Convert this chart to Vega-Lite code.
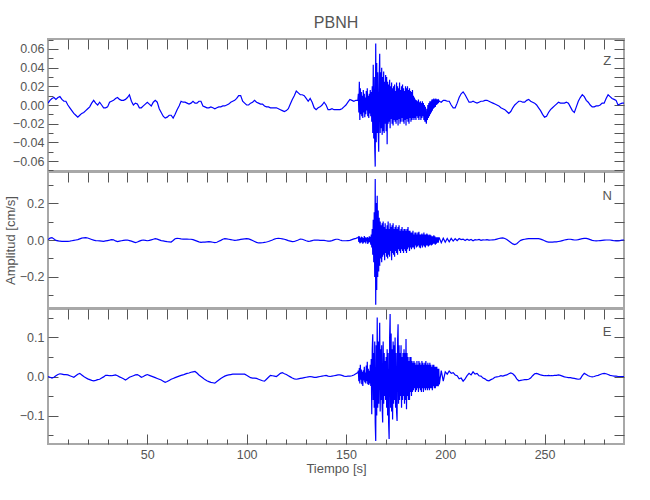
{
"$schema": "https://vega.github.io/schema/vega-lite/v6.json",
"autosize": {"type": "pad"},
"padding": {"left": 3, "top": 14, "right": 5, "bottom": 5},
"title": {"text": "PBNH", "fontSize": 16, "font": "Liberation Sans", "color": "#555555", "fontWeight": "normal", "anchor": "middle", "frame": "group", "offset": 7},
"spacing": -2,
"data": {"values": [
{"t":0,"z":0.002,"n":0.002,"e":0},
{"t":1,"z":0.005,"n":0.010,"e":-0.002},
{"t":2,"z":0.007,"n":0.013,"e":-0.004},
{"t":3,"z":0.008,"n":0.006,"e":-0.002},
{"t":4,"z":0.006,"n":-0.002,"e":0.002},
{"t":5,"z":0.008,"n":-0.005,"e":0.005},
{"t":6,"z":0.009,"n":-0.006,"e":0.007},
{"t":7,"z":0.006,"n":-0.007,"e":0.006},
{"t":8,"z":0.004,"n":-0.007,"e":0.005},
{"t":9,"z":0.004,"n":-0.007,"e":0.005},
{"t":10,"z":0,"n":-0.007,"e":0.004},
{"t":11,"z":-0.003,"n":-0.006,"e":0.002},
{"t":12,"z":-0.006,"n":-0.004,"e":0},
{"t":13,"z":-0.009,"n":-0.002,"e":-0.002},
{"t":14,"z":-0.011,"n":0,"e":0.002},
{"t":15,"z":-0.013,"n":0.002,"e":0.006},
{"t":16,"z":-0.011,"n":0.006,"e":0.008},
{"t":17,"z":-0.009,"n":0.010,"e":0.004},
{"t":18,"z":-0.008,"n":0.012,"e":0},
{"t":19,"z":-0.006,"n":0.013,"e":-0.003},
{"t":20,"z":-0.004,"n":0.011,"e":-0.006},
{"t":21,"z":-0.002,"n":0.007,"e":-0.008},
{"t":22,"z":0.002,"n":0.003,"e":-0.010},
{"t":23,"z":0.005,"n":-0.001,"e":-0.011},
{"t":24,"z":0.002,"n":-0.003,"e":-0.010},
{"t":25,"z":0,"n":-0.004,"e":-0.008},
{"t":26,"z":0.003,"n":-0.005,"e":-0.007},
{"t":27,"z":0,"n":-0.006,"e":-0.004},
{"t":28,"z":-0.003,"n":-0.007,"e":-0.001},
{"t":29,"z":-0.003,"n":-0.005,"e":0.003},
{"t":30,"z":-0.002,"n":-0.003,"e":0.003},
{"t":31,"z":0.003,"n":-0.001,"e":0.002},
{"t":32,"z":0.004,"n":0.002,"e":0.002},
{"t":33,"z":0.005,"n":0.001,"e":0.003},
{"t":34,"z":0.007,"n":-0.005,"e":0.004},
{"t":35,"z":0.008,"n":-0.009,"e":0.002},
{"t":36,"z":0.006,"n":-0.006,"e":-0.001},
{"t":37,"z":0.005,"n":-0.004,"e":-0.003},
{"t":38,"z":0.005,"n":-0.002,"e":-0.006},
{"t":39,"z":0.006,"n":-0.001,"e":-0.009},
{"t":40,"z":0.008,"n":0,"e":-0.006},
{"t":41,"z":0.011,"n":-0.003,"e":-0.002},
{"t":42,"z":0.004,"n":-0.006,"e":0},
{"t":43,"z":0,"n":-0.010,"e":0.002},
{"t":44,"z":0.002,"n":-0.014,"e":0.004},
{"t":45,"z":0.001,"n":-0.011,"e":0.005},
{"t":46,"z":-0.003,"n":-0.006,"e":0.002},
{"t":47,"z":-0.003,"n":-0.002,"e":-0.002},
{"t":48,"z":-0.001,"n":0,"e":0},
{"t":49,"z":0.001,"n":-0.002,"e":0.003},
{"t":50,"z":0.003,"n":-0.004,"e":0.005},
{"t":51,"z":0.001,"n":-0.002,"e":0.003},
{"t":52,"z":-0.001,"n":0.001,"e":0.001},
{"t":53,"z":0.003,"n":0.004,"e":-0.001},
{"t":54,"z":0.005,"n":0.007,"e":-0.003},
{"t":55,"z":0.003,"n":0.005,"e":-0.005},
{"t":56,"z":-0.004,"n":0.001,"e":-0.007},
{"t":57,"z":-0.008,"n":-0.003,"e":-0.009},
{"t":58,"z":-0.012,"n":-0.005,"e":-0.012},
{"t":59,"z":-0.014,"n":-0.007,"e":-0.015},
{"t":60,"z":-0.013,"n":-0.009,"e":-0.013},
{"t":61,"z":-0.011,"n":-0.010,"e":-0.010},
{"t":62,"z":-0.011,"n":-0.011,"e":-0.007},
{"t":63,"z":-0.014,"n":-0.003,"e":-0.005},
{"t":64,"z":-0.010,"n":0.007,"e":-0.003},
{"t":65,"z":-0.005,"n":0.009,"e":-0.001},
{"t":66,"z":-0.001,"n":0.008,"e":0.001},
{"t":67,"z":0.004,"n":0.006,"e":0.003},
{"t":68,"z":0.003,"n":0.005,"e":0.004},
{"t":69,"z":0.003,"n":0.005,"e":0.006},
{"t":70,"z":0.002,"n":0.005,"e":0.008},
{"t":71,"z":0.001,"n":0.004,"e":0.009},
{"t":72,"z":0.002,"n":0.004,"e":0.011},
{"t":73,"z":0.004,"n":0.002,"e":0.012},
{"t":74,"z":0.002,"n":-0.002,"e":0.013},
{"t":75,"z":0.002,"n":-0.006,"e":0.009},
{"t":76,"z":0.004,"n":-0.010,"e":0.004},
{"t":77,"z":0.004,"n":-0.013,"e":0},
{"t":78,"z":-0.001,"n":-0.012,"e":-0.004},
{"t":79,"z":-0.002,"n":-0.011,"e":-0.008},
{"t":80,"z":-0.003,"n":-0.010,"e":-0.011},
{"t":81,"z":-0.003,"n":-0.009,"e":-0.013},
{"t":82,"z":-0.002,"n":-0.010,"e":-0.015},
{"t":83,"z":-0.003,"n":-0.012,"e":-0.016},
{"t":84,"z":-0.004,"n":-0.014,"e":-0.017},
{"t":85,"z":-0.003,"n":-0.012,"e":-0.013},
{"t":86,"z":-0.002,"n":-0.007,"e":-0.009},
{"t":87,"z":-0.002,"n":-0.002,"e":-0.005},
{"t":88,"z":-0.001,"n":0.004,"e":-0.002},
{"t":89,"z":-0.001,"n":0.007,"e":0.001},
{"t":90,"z":0,"n":0.006,"e":0.003},
{"t":91,"z":0.001,"n":0.004,"e":0.004},
{"t":92,"z":0.003,"n":0.002,"e":0.005},
{"t":93,"z":0.004,"n":0,"e":0.006},
{"t":94,"z":0.005,"n":-0.002,"e":0.006},
{"t":95,"z":0.007,"n":-0.001,"e":0.006},
{"t":96,"z":0.010,"n":0.001,"e":0.006},
{"t":97,"z":0.010,"n":0.003,"e":0.006},
{"t":98,"z":0.004,"n":0.005,"e":0.006},
{"t":99,"z":0.002,"n":0.006,"e":0.006},
{"t":100,"z":0,"n":0.007,"e":0.003},
{"t":101,"z":0,"n":0.006,"e":0},
{"t":102,"z":0.002,"n":0.002,"e":-0.003},
{"t":103,"z":0.003,"n":-0.003,"e":-0.004},
{"t":104,"z":0.005,"n":-0.008,"e":-0.004},
{"t":105,"z":0.003,"n":-0.013,"e":-0.005},
{"t":106,"z":0.002,"n":-0.016,"e":-0.007},
{"t":107,"z":0.001,"n":-0.016,"e":-0.009},
{"t":108,"z":0.001,"n":-0.015,"e":-0.011},
{"t":109,"z":-0.001,"n":-0.013,"e":-0.012},
{"t":110,"z":-0.002,"n":-0.011,"e":-0.007},
{"t":111,"z":-0.002,"n":-0.008,"e":-0.002},
{"t":112,"z":-0.003,"n":-0.004,"e":0.003},
{"t":113,"z":-0.003,"n":0,"e":0.002},
{"t":114,"z":-0.003,"n":0.005,"e":0.001},
{"t":115,"z":-0.003,"n":0.008,"e":0},
{"t":116,"z":-0.004,"n":0.009,"e":0.004},
{"t":117,"z":-0.005,"n":0.008,"e":0.008},
{"t":118,"z":-0.006,"n":0.006,"e":0.010},
{"t":119,"z":-0.007,"n":0.004,"e":0.007},
{"t":120,"z":-0.006,"n":0.001,"e":0.005},
{"t":121,"z":-0.004,"n":-0.003,"e":0.002},
{"t":122,"z":0.001,"n":-0.006,"e":-0.001},
{"t":123,"z":0.006,"n":-0.009,"e":-0.004},
{"t":124,"z":0.010,"n":-0.008,"e":-0.006},
{"t":125,"z":0.015,"n":-0.004,"e":-0.007},
{"t":126,"z":0.013,"n":0,"e":-0.006},
{"t":127,"z":0.011,"n":0.005,"e":-0.005},
{"t":128,"z":0.011,"n":0.004,"e":-0.004},
{"t":129,"z":0.010,"n":0,"e":-0.003},
{"t":130,"z":0.007,"n":-0.004,"e":-0.002},
{"t":131,"z":0.004,"n":-0.007,"e":-0.001},
{"t":132,"z":0.007,"n":-0.006,"e":0},
{"t":133,"z":0.003,"n":-0.003,"e":-0.001},
{"t":134,"z":-0.003,"n":0,"e":-0.002},
{"t":135,"z":-0.005,"n":-0.001,"e":-0.002},
{"t":136,"z":-0.003,"n":-0.001,"e":-0.001},
{"t":137,"z":-0.002,"n":-0.002,"e":0},
{"t":138,"z":0,"n":-0.002,"e":0.001},
{"t":139,"z":0.003,"n":-0.002,"e":0.002},
{"t":140,"z":0,"n":-0.004,"e":0.003},
{"t":141,"z":-0.005,"n":-0.006,"e":0.001},
{"t":142,"z":-0.005,"n":-0.006,"e":0},
{"t":143,"z":-0.004,"n":-0.003,"e":0.001},
{"t":144,"z":-0.005,"n":0.001,"e":0.002},
{"t":145,"z":-0.005,"n":0.004,"e":0.003},
{"t":146,"z":-0.005,"n":0.004,"e":0.004},
{"t":147,"z":-0.005,"n":0,"e":0.004},
{"t":148,"z":-0.004,"n":-0.003,"e":0.003},
{"t":149,"z":-0.002,"n":-0.004,"e":0.001},
{"t":150,"z":0,"n":-0.004,"e":0},
{"t":151,"z":0.003,"n":-0.003,"e":0.001},
{"t":152,"z":0.006,"n":-0.002,"e":0.001},
{"t":153,"z":0.005,"n":0.002,"e":0.002},
{"t":154,"z":0.004,"n":0.006,"e":0.004},
{"t":155,"z":0.005,"n":0.009,"e":0.007},
{"t":156,"z":0.005,"n":0.013,"e":0.010},
{"t":156.25,"z":0.012,"n":0.016,"e":0.015},
{"t":156.5,"z":-0.008,"n":-0.010,"e":-0.012},
{"t":156.75,"z":0.025,"n":0.020,"e":0.022},
{"t":157,"z":-0.016,"n":-0.018,"e":-0.018},
{"t":157.25,"z":0.018,"n":0.012,"e":0.030},
{"t":157.5,"z":-0.010,"n":-0.015,"e":-0.008},
{"t":157.75,"z":0.014,"n":0.018,"e":0.018},
{"t":158,"z":-0.012,"n":-0.012,"e":-0.020},
{"t":158.25,"z":0.010,"n":0.015,"e":0.012},
{"t":158.5,"z":-0.014,"n":-0.020,"e":-0.024},
{"t":158.75,"z":0.016,"n":0.010,"e":0.016},
{"t":159,"z":-0.008,"n":-0.014,"e":-0.010},
{"t":159.25,"z":0.012,"n":0.022,"e":0.025},
{"t":159.5,"z":-0.013,"n":-0.010,"e":-0.015},
{"t":159.75,"z":0.008,"n":0.014,"e":0.010},
{"t":160,"z":-0.010,"n":-0.018,"e":-0.018},
{"t":160.25,"z":0.015,"n":0.012,"e":0.028},
{"t":160.5,"z":-0.006,"n":-0.008,"e":-0.012},
{"t":160.75,"z":0.018,"n":0.016,"e":0.038},
{"t":161,"z":-0.012,"n":-0.022,"e":-0.020},
{"t":161.25,"z":0.010,"n":0.012,"e":0.020},
{"t":161.5,"z":-0.014,"n":-0.015,"e":-0.022},
{"t":161.75,"z":0.012,"n":0.020,"e":0.015},
{"t":162,"z":-0.009,"n":-0.010,"e":-0.018},
{"t":162.25,"z":0.016,"n":0.018,"e":0.030},
{"t":162.5,"z":-0.012,"n":-0.025,"e":-0.024},
{"t":162.75,"z":0.014,"n":0.030,"e":0.045},
{"t":163,"z":-0.018,"n":-0.040,"e":-0.097},
{"t":163.25,"z":0.020,"n":0.060,"e":0.070},
{"t":163.5,"z":-0.030,"n":-0.080,"e":0.108},
{"t":163.75,"z":0.043,"n":0.110,"e":-0.060},
{"t":164,"z":-0.036,"n":-0.120,"e":0.060},
{"t":164.25,"z":0.030,"n":0.150,"e":-0.080},
{"t":164.5,"z":-0.045,"n":-0.200,"e":0.090},
{"t":164.75,"z":-0.066,"n":0.330,"e":-0.120},
{"t":165,"z":0.066,"n":-0.350,"e":-0.165},
{"t":165.25,"z":-0.040,"n":0.200,"e":0.080},
{"t":165.5,"z":0.045,"n":-0.270,"e":-0.100},
{"t":165.75,"z":-0.030,"n":0.240,"e":0.151},
{"t":166,"z":0.035,"n":-0.200,"e":-0.080},
{"t":166.25,"z":-0.025,"n":0.160,"e":0.090},
{"t":166.5,"z":-0.050,"n":-0.170,"e":-0.070},
{"t":166.75,"z":0.030,"n":0.120,"e":0.060},
{"t":167,"z":0.055,"n":-0.140,"e":0.138},
{"t":167.25,"z":-0.030,"n":0.100,"e":-0.090},
{"t":167.5,"z":0.035,"n":-0.100,"e":0.070},
{"t":167.75,"z":-0.025,"n":0.080,"e":-0.060},
{"t":168,"z":0.040,"n":-0.120,"e":0.080},
{"t":168.25,"z":-0.032,"n":0.090,"e":-0.080},
{"t":168.5,"z":0.030,"n":-0.090,"e":-0.118},
{"t":168.75,"z":-0.028,"n":0.100,"e":0.090},
{"t":169,"z":0.036,"n":-0.080,"e":-0.070},
{"t":169.25,"z":-0.030,"n":0.070,"e":0.060},
{"t":169.5,"z":0.025,"n":-0.110,"e":-0.050},
{"t":169.75,"z":-0.020,"n":0.090,"e":0.040},
{"t":170,"z":0.032,"n":-0.070,"e":-0.060},
{"t":170.25,"z":-0.028,"n":0.060,"e":0.050},
{"t":170.5,"z":0.030,"n":-0.090,"e":-0.080},
{"t":170.75,"z":-0.042,"n":0.080,"e":0.070},
{"t":171,"z":0.025,"n":-0.100,"e":-0.100},
{"t":171.25,"z":-0.020,"n":0.100,"e":0.060},
{"t":171.5,"z":0.022,"n":-0.080,"e":-0.120},
{"t":171.75,"z":-0.018,"n":0.060,"e":-0.160},
{"t":172,"z":0.027,"n":-0.090,"e":0.100},
{"t":172.25,"z":-0.025,"n":0.090,"e":0.160},
{"t":172.5,"z":0.020,"n":-0.060,"e":-0.080},
{"t":172.75,"z":-0.015,"n":0.070,"e":0.110},
{"t":173,"z":0.024,"n":-0.110,"e":-0.090},
{"t":173.25,"z":-0.020,"n":0.080,"e":0.070},
{"t":173.5,"z":0.018,"n":-0.070,"e":-0.110},
{"t":173.75,"z":-0.022,"n":0.090,"e":0.090},
{"t":174,"z":0.020,"n":-0.080,"e":-0.070},
{"t":174.25,"z":-0.016,"n":0.060,"e":0.080},
{"t":174.5,"z":0.022,"n":-0.090,"e":-0.060},
{"t":174.75,"z":-0.018,"n":0.070,"e":0.100},
{"t":175,"z":0.015,"n":-0.060,"e":-0.080},
{"t":175.25,"z":-0.020,"n":0.080,"e":0.060},
{"t":175.5,"z":0.024,"n":-0.070,"e":-0.090},
{"t":175.75,"z":-0.016,"n":0.060,"e":-0.114},
{"t":176,"z":0.020,"n":-0.080,"e":0.090},
{"t":176.25,"z":-0.022,"n":0.070,"e":0.134},
{"t":176.5,"z":0.018,"n":-0.050,"e":-0.070},
{"t":176.75,"z":-0.015,"n":0.080,"e":0.080},
{"t":177,"z":0.024,"n":-0.060,"e":-0.060},
{"t":177.25,"z":-0.020,"n":0.050,"e":0.060},
{"t":177.5,"z":0.016,"n":-0.070,"e":-0.050},
{"t":177.75,"z":-0.018,"n":0.060,"e":0.080},
{"t":178,"z":0.020,"n":-0.050,"e":-0.080},
{"t":178.25,"z":-0.014,"n":0.070,"e":0.050},
{"t":178.5,"z":0.022,"n":-0.060,"e":-0.060},
{"t":178.75,"z":-0.018,"n":0.050,"e":0.060},
{"t":179,"z":0.018,"n":-0.070,"e":-0.050},
{"t":179.25,"z":-0.020,"n":0.060,"e":0.070},
{"t":179.5,"z":0.015,"n":-0.050,"e":-0.070},
{"t":179.75,"z":-0.016,"n":0.060,"e":0.060},
{"t":180,"z":0.020,"n":-0.060,"e":-0.060},
{"t":180.25,"z":-0.022,"n":0.050,"e":0.096},
{"t":180.5,"z":0.018,"n":-0.070,"e":-0.084},
{"t":180.75,"z":-0.015,"n":0.060,"e":0.060},
{"t":181,"z":0.020,"n":-0.050,"e":-0.050},
{"t":181.25,"z":-0.018,"n":0.070,"e":0.050},
{"t":181.5,"z":0.016,"n":-0.040,"e":-0.060},
{"t":181.75,"z":-0.020,"n":0.050,"e":0.040},
{"t":182,"z":0.018,"n":-0.060,"e":-0.060},
{"t":182.25,"z":-0.014,"n":0.050,"e":0.050},
{"t":182.5,"z":0.015,"n":-0.040,"e":-0.040},
{"t":182.75,"z":-0.018,"n":0.040,"e":0.050},
{"t":183,"z":0.014,"n":-0.050,"e":-0.050},
{"t":183.25,"z":-0.016,"n":0.040,"e":0.040},
{"t":183.5,"z":0.016,"n":-0.040,"e":-0.040},
{"t":183.75,"z":-0.014,"n":0.050,"e":0.035},
{"t":184,"z":0.010,"n":-0.040,"e":-0.035},
{"t":184.25,"z":-0.016,"n":0.030,"e":0.040},
{"t":184.5,"z":0.008,"n":-0.050,"e":-0.030},
{"t":184.75,"z":-0.014,"n":0.040,"e":0.035},
{"t":185,"z":0.006,"n":-0.030,"e":-0.040},
{"t":185.25,"z":-0.016,"n":0.040,"e":0.030},
{"t":185.5,"z":0.005,"n":-0.040,"e":-0.035},
{"t":185.75,"z":-0.012,"n":0.030,"e":0.040},
{"t":186,"z":0.004,"n":-0.035,"e":-0.030},
{"t":186.25,"z":-0.014,"n":0.040,"e":0.030},
{"t":186.5,"z":0.006,"n":-0.030,"e":-0.040},
{"t":186.75,"z":-0.016,"n":0.045,"e":0.040},
{"t":187,"z":0.003,"n":-0.040,"e":-0.030},
{"t":187.25,"z":-0.012,"n":0.030,"e":0.035},
{"t":187.5,"z":0.004,"n":-0.045,"e":-0.035},
{"t":187.75,"z":-0.016,"n":0.030,"e":0.030},
{"t":188,"z":0.002,"n":-0.030,"e":-0.040},
{"t":188.25,"z":-0.014,"n":0.035,"e":0.040},
{"t":188.5,"z":0.004,"n":-0.040,"e":-0.030},
{"t":188.75,"z":-0.012,"n":0.030,"e":0.035},
{"t":189,"z":0.002,"n":-0.030,"e":-0.040},
{"t":189.25,"z":-0.016,"n":0.040,"e":0.030},
{"t":189.5,"z":0,"n":-0.035,"e":-0.030},
{"t":189.75,"z":-0.018,"n":0.030,"e":0.035},
{"t":190,"z":-0.002,"n":-0.040,"e":-0.035},
{"t":190.25,"z":-0.016,"n":0.030,"e":0.040},
{"t":190.5,"z":-0.020,"n":-0.030,"e":-0.030},
{"t":190.75,"z":-0.004,"n":0.035,"e":0.030},
{"t":191,"z":-0.016,"n":-0.030,"e":-0.035},
{"t":191.25,"z":0,"n":0.030,"e":0.035},
{"t":191.5,"z":-0.014,"n":-0.035,"e":-0.030},
{"t":191.75,"z":0.002,"n":0.025,"e":0.030},
{"t":192,"z":-0.012,"n":-0.030,"e":-0.035},
{"t":192.25,"z":0.004,"n":0.030,"e":0.035},
{"t":192.5,"z":-0.010,"n":-0.025,"e":-0.030},
{"t":192.75,"z":0.004,"n":0.025,"e":0.030},
{"t":193,"z":-0.008,"n":-0.030,"e":-0.030},
{"t":193.25,"z":0.006,"n":0.020,"e":0.025},
{"t":193.5,"z":-0.006,"n":-0.025,"e":-0.035},
{"t":193.75,"z":0.006,"n":0.020,"e":0.030},
{"t":194,"z":-0.004,"n":-0.020,"e":-0.025},
{"t":194.25,"z":0.007,"n":0.025,"e":0.030},
{"t":194.5,"z":-0.003,"n":-0.020,"e":-0.030},
{"t":194.75,"z":0.006,"n":0.020,"e":0.025},
{"t":195,"z":-0.002,"n":-0.025,"e":-0.030},
{"t":195.25,"z":0.007,"n":0.015,"e":0.025},
{"t":195.5,"z":0,"n":-0.020,"e":-0.025},
{"t":195.75,"z":0.006,"n":0.015,"e":0.025},
{"t":196,"z":0.001,"n":-0.015,"e":-0.025},
{"t":196.25,"z":0.006,"n":0.015,"e":0.020},
{"t":196.5,"z":0.002,"n":-0.015,"e":-0.025},
{"t":196.75,"z":0.005,"n":0.012,"e":0.020},
{"t":197,"z":0.004,"n":0.012,"e":-0.020},
{"t":198,"z":0.003,"n":-0.015,"e":0.015},
{"t":199,"z":0.005,"n":0.010,"e":-0.012},
{"t":200,"z":0.005,"n":-0.012,"e":0.012},
{"t":201,"z":0.004,"n":0.008,"e":0.006},
{"t":202,"z":0.004,"n":-0.010,"e":0.014},
{"t":203,"z":0,"n":0.009,"e":0.008},
{"t":204,"z":-0.003,"n":-0.006,"e":0.010},
{"t":205,"z":-0.003,"n":0.007,"e":0.004},
{"t":206,"z":0.002,"n":-0.004,"e":0.002},
{"t":207,"z":0.008,"n":0.008,"e":-0.006},
{"t":208,"z":0.012,"n":0.002,"e":-0.004},
{"t":209,"z":0.014,"n":0.005,"e":-0.012},
{"t":210,"z":0.011,"n":-0.003,"e":-0.006},
{"t":211,"z":0.007,"n":0.004,"e":0.002},
{"t":212,"z":0.003,"n":-0.002,"e":0.008},
{"t":213,"z":0.003,"n":0.003,"e":0.004},
{"t":214,"z":0.004,"n":-0.004,"e":0.012},
{"t":215,"z":0.003,"n":0.002,"e":0.006},
{"t":216,"z":0.002,"n":0,"e":0.008},
{"t":217,"z":0.003,"n":0.003,"e":0.002},
{"t":218,"z":0.004,"n":-0.002,"e":0.001},
{"t":219,"z":0.004,"n":0.001,"e":-0.004},
{"t":220,"z":0.005,"n":0,"e":-0.006},
{"t":221,"z":0.005,"n":0.002,"e":-0.010},
{"t":222,"z":0.004,"n":-0.001,"e":-0.011},
{"t":223,"z":0.003,"n":0,"e":-0.008},
{"t":224,"z":0.002,"n":0.001,"e":-0.006},
{"t":225,"z":0.001,"n":0.002,"e":-0.002},
{"t":226,"z":0,"n":0.005,"e":-0.001},
{"t":227,"z":-0.001,"n":0.008,"e":0},
{"t":228,"z":-0.003,"n":0.010,"e":0.002},
{"t":229,"z":-0.004,"n":0.011,"e":0.001},
{"t":230,"z":-0.005,"n":0.008,"e":0.003},
{"t":231,"z":-0.007,"n":0.003,"e":0.004},
{"t":232,"z":-0.009,"n":-0.005,"e":0.007},
{"t":233,"z":-0.007,"n":-0.013,"e":0.009},
{"t":234,"z":-0.003,"n":-0.021,"e":0.007},
{"t":235,"z":0,"n":-0.025,"e":0.002},
{"t":236,"z":0.002,"n":-0.020,"e":-0.006},
{"t":237,"z":0.004,"n":-0.010,"e":-0.011},
{"t":238,"z":0.004,"n":-0.002,"e":-0.010},
{"t":239,"z":0.003,"n":0.002,"e":-0.009},
{"t":240,"z":0.003,"n":0.004,"e":-0.008},
{"t":241,"z":0.005,"n":0.006,"e":-0.008},
{"t":242,"z":0.006,"n":0.007,"e":-0.007},
{"t":243,"z":0.004,"n":0.007,"e":-0.004},
{"t":244,"z":0.003,"n":0.007,"e":0.002},
{"t":245,"z":0.002,"n":0.007,"e":0.007},
{"t":246,"z":0,"n":0.007,"e":0.008},
{"t":247,"z":-0.003,"n":0.007,"e":0.006},
{"t":248,"z":-0.006,"n":0.005,"e":0.004},
{"t":249,"z":-0.010,"n":0.001,"e":0.003},
{"t":250,"z":-0.013,"n":-0.004,"e":0.002},
{"t":251,"z":-0.012,"n":-0.009,"e":0.002},
{"t":252,"z":-0.008,"n":-0.011,"e":0.003},
{"t":253,"z":-0.005,"n":-0.011,"e":0.002},
{"t":254,"z":-0.003,"n":-0.011,"e":0.002},
{"t":255,"z":-0.001,"n":-0.010,"e":0.003},
{"t":256,"z":0.001,"n":-0.010,"e":0.003},
{"t":257,"z":0.003,"n":-0.008,"e":0.004},
{"t":258,"z":0.002,"n":-0.006,"e":0.003},
{"t":259,"z":0.002,"n":-0.003,"e":0.001},
{"t":260,"z":0.002,"n":0,"e":-0.001},
{"t":261,"z":0.003,"n":0.002,"e":-0.002},
{"t":262,"z":0.002,"n":0.004,"e":-0.003},
{"t":263,"z":-0.002,"n":0.004,"e":-0.003},
{"t":264,"z":-0.006,"n":0.002,"e":-0.004},
{"t":265,"z":-0.008,"n":0,"e":-0.005},
{"t":266,"z":-0.002,"n":0,"e":-0.006},
{"t":267,"z":0.004,"n":0.002,"e":-0.007},
{"t":268,"z":0.008,"n":0.005,"e":-0.006},
{"t":269,"z":0.011,"n":0.007,"e":0.002},
{"t":270,"z":0.009,"n":0.009,"e":0.008},
{"t":271,"z":0.005,"n":0.009,"e":0.005},
{"t":272,"z":0.003,"n":0.006,"e":0.002},
{"t":273,"z":0,"n":0.002,"e":0},
{"t":274,"z":-0.002,"n":-0.002,"e":-0.001},
{"t":275,"z":-0.002,"n":-0.004,"e":0},
{"t":276,"z":-0.001,"n":-0.005,"e":0.002},
{"t":277,"z":-0.001,"n":-0.004,"e":0.003},
{"t":278,"z":0,"n":-0.003,"e":0.005},
{"t":279,"z":0.002,"n":-0.002,"e":0.007},
{"t":280,"z":0.002,"n":-0.001,"e":0.008},
{"t":281,"z":0.007,"n":0,"e":0.007},
{"t":282,"z":0.011,"n":0,"e":0.005},
{"t":283,"z":0.009,"n":0,"e":0.003},
{"t":284,"z":0.007,"n":-0.002,"e":0.002},
{"t":285,"z":0.006,"n":-0.004,"e":0.001},
{"t":286,"z":0.005,"n":-0.005,"e":0.001},
{"t":287,"z":0,"n":-0.005,"e":0},
{"t":288,"z":0.001,"n":-0.003,"e":0},
{"t":289,"z":0.002,"n":0,"e":0},
{"t":290,"z":0.002,"n":0,"e":0}
]},
"vconcat": [
{
"width": 576, "height": 132,
"resolve": {"axis": {"x": "independent", "y": "independent"}},
"layer": [
{"mark": {"type": "line", "color": "#0000ff", "strokeWidth": 1.2, "clip": true},
 "encoding": {
  "x": {"field": "t", "type": "quantitative", "scale": {"domain": [0, 290], "nice": false, "zero": false},
        "axis": {"orient": "top", "values": [10,20,30,40,50,60,70,80,90,100,110,120,130,140,150,160,170,180,190,200,210,220,230,240,250,260,270,280], "labels": false, "title": null, "tickSize": -10,
                 "encode": {"ticks": {"update": {"y2": {"signal": "datum.value % 50 === 0 ? 10 : 5"}}}}}},
  "y": {"field": "z", "type": "quantitative", "scale": {"domain": [-0.0707, 0.0707], "nice": false, "zero": false},
        "axis": {"orient": "left", "values": [-0.06,-0.04,-0.02,0,0.02,0.04,0.06], "format": ".2f", "labelPadding": 14, "title": null, "tickSize": -10}}
 }},
{"mark": {"type": "line", "opacity": 0},
 "encoding": {
  "x": {"field": "t", "type": "quantitative", "axis": null},
  "y": {"field": "z", "type": "quantitative",
        "axis": {"orient": "left", "values": [-0.07,-0.05,-0.03,-0.01,0.01,0.03,0.05,0.07], "labels": false, "title": null, "tickSize": -5}}
 }},
{"mark": {"type": "line", "opacity": 0},
 "encoding": {
  "x": {"field": "t", "type": "quantitative", "axis": null},
  "y": {"field": "z", "type": "quantitative",
        "axis": {"orient": "right", "values": [-0.07,-0.06,-0.05,-0.04,-0.03,-0.02,-0.01,0,0.01,0.02,0.03,0.04,0.05,0.06,0.07], "labels": false, "title": null, "tickSize": -10,
                 "encode": {"ticks": {"update": {"x2": {"signal": "abs(round(datum.value*100)) % 2 === 0 ? -10 : -5"}}}}}}
 }},
{"data": {"values": [{"lab": "Z"}]},
 "mark": {"type": "text", "fontSize": 13, "color": "#555555", "font": "Liberation Sans"},
 "encoding": {
  "x": {"datum": 281.5, "type": "quantitative", "axis": null},
  "y": {"datum": 0.047, "type": "quantitative", "axis": null},
  "text": {"field": "lab"}
 }}
]
},
{
"width": 576, "height": 136,
"resolve": {"axis": {"x": "independent", "y": "independent"}},
"layer": [
{"mark": {"type": "line", "color": "#0000ff", "strokeWidth": 1.2, "clip": true},
 "encoding": {
  "x": {"field": "t", "type": "quantitative", "scale": {"domain": [0, 290], "nice": false, "zero": false},
        "axis": {"orient": "top", "values": [10,20,30,40,50,60,70,80,90,100,110,120,130,140,150,160,170,180,190,200,210,220,230,240,250,260,270,280], "labels": false, "title": null, "tickSize": -10,
                 "encode": {"ticks": {"update": {"y2": {"signal": "datum.value % 50 === 0 ? 10 : 5"}}}}}},
  "y": {"field": "n", "type": "quantitative", "scale": {"domain": [-0.368, 0.368], "nice": false, "zero": false},
        "axis": {"orient": "left", "values": [-0.2,0,0.2], "format": ".1f", "labelPadding": 14, "title": "Amplitud  [cm/s]", "titlePadding": 2, "tickSize": -10}}
 }},
{"mark": {"type": "line", "opacity": 0},
 "encoding": {
  "x": {"field": "t", "type": "quantitative", "axis": null},
  "y": {"field": "n", "type": "quantitative",
        "axis": {"orient": "left", "values": [-0.3,-0.1,0.1,0.3], "labels": false, "title": null, "tickSize": -5}}
 }},
{"mark": {"type": "line", "opacity": 0},
 "encoding": {
  "x": {"field": "t", "type": "quantitative", "axis": null},
  "y": {"field": "n", "type": "quantitative",
        "axis": {"orient": "right", "values": [-0.3,-0.2,-0.1,0,0.1,0.2,0.3], "labels": false, "title": null, "tickSize": -10,
                 "encode": {"ticks": {"update": {"x2": {"signal": "abs(round(datum.value*10)) % 2 === 0 ? -10 : -5"}}}}}}
 }},
{"data": {"values": [{"lab": "N"}]},
 "mark": {"type": "text", "fontSize": 13, "color": "#555555", "font": "Liberation Sans"},
 "encoding": {
  "x": {"datum": 281.5, "type": "quantitative", "axis": null},
  "y": {"datum": 0.238, "type": "quantitative", "axis": null},
  "text": {"field": "lab"}
 }}
]
},
{
"width": 576, "height": 135,
"resolve": {"axis": {"x": "independent", "y": "independent"}},
"layer": [
{"mark": {"type": "line", "color": "#0000ff", "strokeWidth": 1.2, "clip": true},
 "encoding": {
  "x": {"field": "t", "type": "quantitative", "scale": {"domain": [0, 290], "nice": false, "zero": false},
        "axis": {"orient": "bottom", "values": [50,100,150,200,250], "labelPadding": 14, "title": "Tiempo  [s]", "titlePadding": 2, "tickSize": -10}},
  "y": {"field": "e", "type": "quantitative", "scale": {"domain": [-0.173, 0.173], "nice": false, "zero": false},
        "axis": {"orient": "left", "values": [-0.1,0,0.1], "format": ".1f", "labelPadding": 14, "title": null, "tickSize": -10}}
 }},
{"mark": {"type": "line", "opacity": 0},
 "encoding": {
  "x": {"field": "t", "type": "quantitative",
        "axis": {"orient": "bottom", "values": [10,20,30,40,60,70,80,90,110,120,130,140,160,170,180,190,210,220,230,240,260,270,280], "labels": false, "title": null, "tickSize": -5}},
  "y": {"field": "e", "type": "quantitative",
        "axis": {"orient": "left", "values": [-0.15,-0.05,0.05,0.15], "labels": false, "title": null, "tickSize": -5}}
 }},
{"mark": {"type": "line", "opacity": 0},
 "encoding": {
  "x": {"field": "t", "type": "quantitative",
        "axis": {"orient": "top", "values": [10,20,30,40,50,60,70,80,90,100,110,120,130,140,150,160,170,180,190,200,210,220,230,240,250,260,270,280], "labels": false, "title": null, "tickSize": -10,
                 "encode": {"ticks": {"update": {"y2": {"signal": "datum.value % 50 === 0 ? 10 : 5"}}}}}},
  "y": {"field": "e", "type": "quantitative",
        "axis": {"orient": "right", "values": [-0.15,-0.1,-0.05,0,0.05,0.1,0.15], "labels": false, "title": null, "tickSize": -10,
                 "encode": {"ticks": {"update": {"x2": {"signal": "abs(round(datum.value*20)) % 2 === 0 ? -10 : -5"}}}}}}
 }},
{"data": {"values": [{"lab": "E"}]},
 "mark": {"type": "text", "fontSize": 13, "color": "#555555", "font": "Liberation Sans"},
 "encoding": {
  "x": {"datum": 281.5, "type": "quantitative", "axis": null},
  "y": {"datum": 0.115, "type": "quantitative", "axis": null},
  "text": {"field": "lab"}
 }}
]
}
],
"config": {
 "font": "Liberation Sans",
 "view": {"stroke": "#a8a8a8", "strokeWidth": 2},
 "axis": {"domain": false, "grid": false, "labelFlush": false, "labelOverlap": false,
          "labelFont": "Liberation Sans", "labelFontSize": 12.5, "labelColor": "#555555",
          "tickColor": "#555555", "tickWidth": 1, "ticks": true,
          "titleFont": "Liberation Sans", "titleFontSize": 13, "titleColor": "#555555", "titleFontWeight": "normal"}
}
}
